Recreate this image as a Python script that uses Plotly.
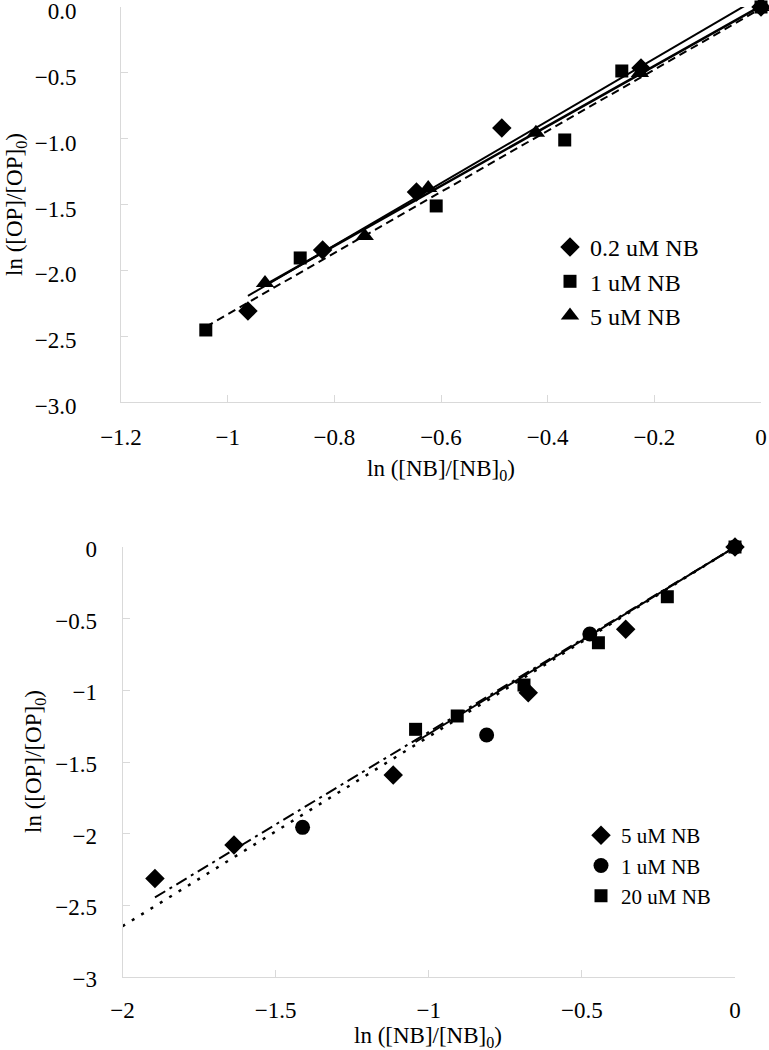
import numpy as np
import plotly.graph_objects as go

# ---------------- data: top panel ----------------
top_names = ["0.2 uM NB", "1 uM NB", "5 uM NB"]
top_x_02 = [-0.962, -0.822, -0.646, -0.486, -0.225, 0.0]
top_y_02 = [-2.309, -1.846, -1.405, -0.919, -0.463, 0.0]
top_x_1 = [-1.041, -0.864, -0.609, -0.368, -0.261, 0.0]
top_y_1 = [-2.453, -1.906, -1.511, -1.010, -0.486, 0.0]
top_x_5 = [-0.930, -0.743, -0.624, -0.422, -0.227, 0.0]
top_y_5 = [-2.096, -1.739, -1.375, -0.955, -0.501, 0.0]

# ---------------- data: bottom panel ----------------
bot_names = ["5 uM NB", "1 uM NB", "20 uM NB"]
bot_x_5 = [-1.894, -1.636, -1.116, -0.675, -0.357, 0.0]
bot_y_5 = [-2.312, -2.079, -1.591, -1.016, -0.574, 0.0]
bot_x_1 = [-1.412, -0.811, -0.474, 0.0]
bot_y_1 = [-1.956, -1.312, -0.607, 0.0]
bot_x_20 = [-1.043, -0.907, -0.689, -0.446, -0.221, 0.0]
bot_y_20 = [-1.272, -1.179, -0.963, -0.668, -0.347, 0.0]
bot_dotted_start = -2.0  # backward forecast of dotted trendline

x_title = "ln ([NB]/[NB]<sub>0</sub>)"
y_title = "ln ([OP]/[OP]<sub>0</sub>)"

FONT = "Liberation Serif"
fs = 23

fig = go.Figure()


def fit_free(x, y):
    m, b = np.polyfit(np.array(x), np.array(y), 1)
    return m, b


def fit_origin(x, y):
    x = np.array(x); y = np.array(y)
    return float((x * y).sum() / (x * x).sum()), 0.0


def add_line(x0, x1, m, b, dash, width, xa, ya):
    xs = np.array([x0, x1])
    fig.add_trace(go.Scatter(x=xs, y=m * xs + b, mode="lines", showlegend=False,
                             line=dict(color="black", width=width, dash=dash),
                             xaxis=xa, yaxis=ya, hoverinfo="skip"))


# top trendlines
m, b = fit_free(top_x_02, top_y_02)
add_line(min(top_x_02), max(top_x_02), m, b, "solid", 2, "x", "y")
m, b = fit_free(top_x_1, top_y_1)
add_line(min(top_x_1), max(top_x_1), m, b, "8px,5px", 2, "x", "y")
m, b = fit_free(top_x_5, top_y_5)
add_line(min(top_x_5), max(top_x_5), m, b, "solid", 2.5, "x", "y")

# bottom trendlines (intercept fixed at 0)
m, b = fit_origin(bot_x_5, bot_y_5)
add_line(min(bot_x_5), max(bot_x_5), m, b, "12px,5px,3px,5px", 2, "x2", "y2")
m, b = fit_origin(bot_x_5 + bot_x_1 + bot_x_20, bot_y_5 + bot_y_1 + bot_y_20)
add_line(bot_dotted_start, 0.0, m, b, "3px,8px", 2.5, "x2", "y2")
m, b = fit_origin(bot_x_20, bot_y_20)
add_line(min(bot_x_20), max(bot_x_20), m, b, "solid", 2, "x2", "y2")

# markers top
for name, xs, ys, sym, sz in [
    (top_names[0], top_x_02, top_y_02, "diamond", 15),
    (top_names[1], top_x_1, top_y_1, "square", 13),
    (top_names[2], top_x_5, top_y_5, "triangle-up", 16),
]:
    fig.add_trace(go.Scatter(x=xs, y=ys, mode="markers", name=name,
                             marker=dict(symbol=sym, size=sz, color="black"),
                             cliponaxis=False, xaxis="x", yaxis="y", legend="legend"))

# markers bottom
for name, xs, ys, sym, sz in [
    (bot_names[0], bot_x_5, bot_y_5, "diamond", 15),
    (bot_names[1], bot_x_1, bot_y_1, "circle", 15),
    (bot_names[2], bot_x_20, bot_y_20, "square", 13),
]:
    fig.add_trace(go.Scatter(x=xs, y=ys, mode="markers", name=name,
                             marker=dict(symbol=sym, size=sz, color="black"),
                             cliponaxis=False, xaxis="x2", yaxis="y2", legend="legend2"))

W, H = 769, 1050
axis_common = dict(showgrid=False, zeroline=False, showline=True, linecolor="#d9d9d9",
                   linewidth=1, ticks="inside", ticklen=7, tickcolor="#d9d9d9",
                   automargin=False, ticklabeloverflow="allow",
                   tickfont=dict(family=FONT, size=fs, color="black"))

fig.update_layout(
    width=W, height=H, margin=dict(l=0, r=0, t=0, b=0),
    paper_bgcolor="white", plot_bgcolor="white",
    font=dict(family=FONT, size=fs, color="black"),
    xaxis=dict(domain=[121 / W, 761 / W], anchor="y", range=[-1.2, 0], dtick=0.2,
               ticklabelstandoff=14, **axis_common),
    yaxis=dict(domain=[1 - 402 / H, 1 - 7 / H], anchor="x", range=[-3, 0], dtick=0.5,
               tickformat=".1f", ticklabelstandoff=39, ticklabelshift=4, **axis_common),
    xaxis2=dict(domain=[122.5 / W, 735 / W], anchor="y2", range=[-2, 0], dtick=0.5,
                ticklabelstandoff=12, **axis_common),
    yaxis2=dict(domain=[1 - 977 / H, 1 - 547 / H], anchor="x2", range=[-3, 0], dtick=0.5,
                ticklabelstandoff=20, ticklabelshift=2, **axis_common),
    legend=dict(x=550 / W, y=1 - 225 / H, xanchor="left", yanchor="top",
                bgcolor="rgba(0,0,0,0)", font=dict(family=FONT, size=24), itemwidth=30),
    legend2=dict(x=581 / W, y=1 - 815 / H, xanchor="left", yanchor="top",
                 bgcolor="rgba(0,0,0,0)", font=dict(family=FONT, size=21), itemwidth=30),
)

for txt, xp, yp, ang in [
    (x_title, 441, 470, 0),
    (y_title, 16, 205, -90),
    (x_title, 428, 1037, 0),
    (y_title, 35, 762, -90),
]:
    fig.add_annotation(text=txt, xref="paper", yref="paper", x=xp / W, y=1 - yp / H,
                       xanchor="center", yanchor="middle", showarrow=False, textangle=ang,
                       font=dict(family=FONT, size=fs, color="black"))

fig.write_html("out.html", config={"displayModeBar": False},
               post_script="document.body.style.margin='0';")
